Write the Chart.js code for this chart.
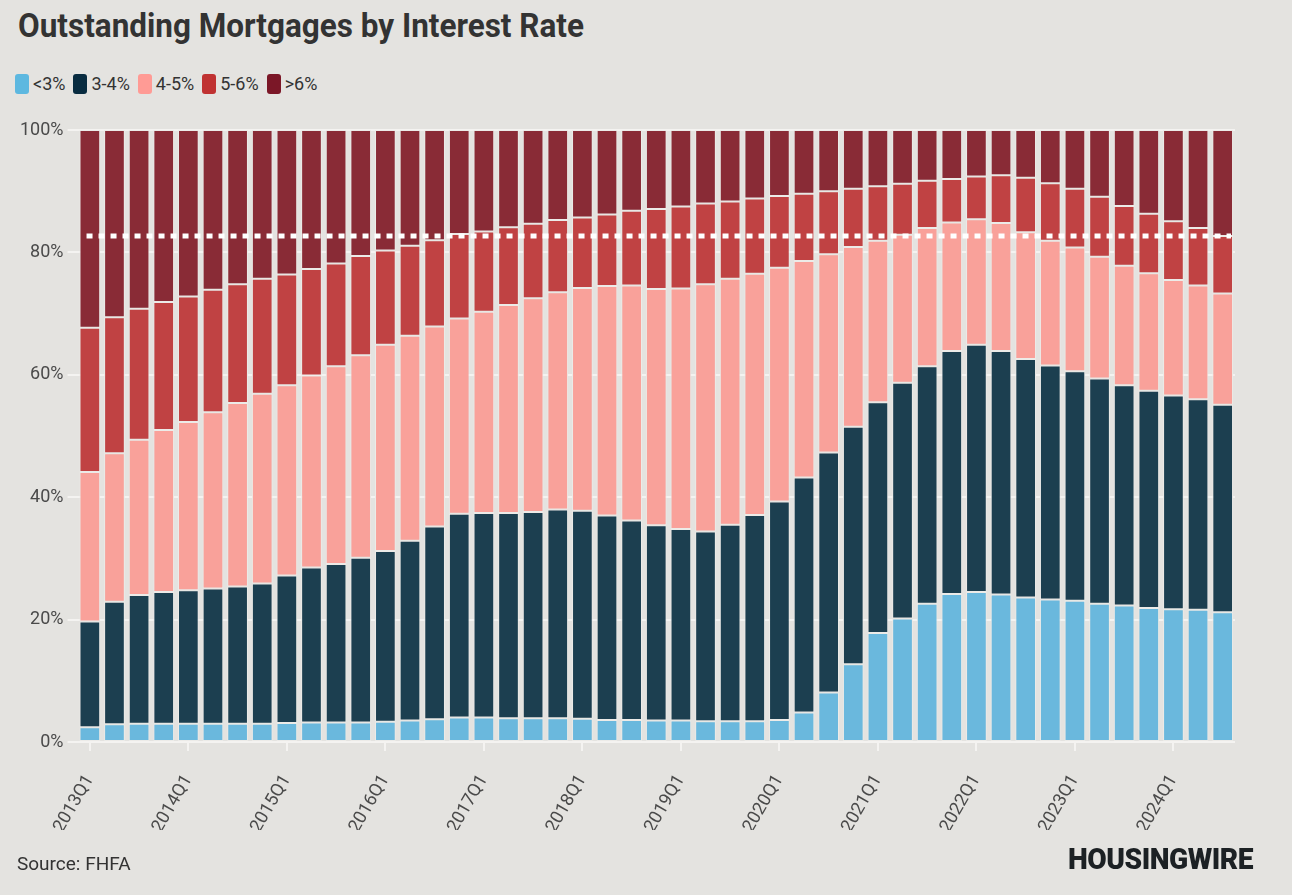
<!DOCTYPE html>
<html>
<head>
<meta charset="utf-8">
<script src="https://cdn.jsdelivr.net/npm/chart.js@4.4.1/dist/chart.umd.min.js"></script>
<style>
  html, body { margin: 0; padding: 0; background: #e4e3e0; width: 1292px; height: 895px; overflow: hidden; font-family: Roboto, "Noto Sans", sans-serif; }
  #title { position: absolute; left: 18px; top: 6px; font-size: 33px; font-weight: 700; color: #333333; white-space: nowrap; transform-origin: left top; }
  #legend { position: absolute; left: 15px; top: 73px; display: flex; align-items: center; }
  .item { display: flex; align-items: center; margin-right: 8px; }
  .box { width: 14px; height: 20px; border-radius: 3px; margin-right: 4px; }
  .lbl { font-size: 18px; color: #333333; }
  #source { position: absolute; left: 17px; top: 852px; font-size: 19px; color: #333333; white-space: nowrap; }
  #logo { position: absolute; left: 1068px; top: 842px; font-size: 29px; font-weight: 900; color: #1c2124; white-space: nowrap; transform-origin: left top; letter-spacing: -0.5px; }
  #wrap { position: absolute; left: 0; top: 108px; width: 1292px; height: 760px; }
</style>
</head>
<body>
<div id="title">Outstanding Mortgages by Interest Rate</div>
<div id="legend"></div>
<div id="wrap"><canvas id="c"></canvas></div>
<div id="source">Source: FHFA</div>
<div id="logo">HOUSINGWIRE</div>
<script>
const quarters = [
  '2013Q1','2013Q2','2013Q3','2013Q4','2014Q1','2014Q2','2014Q3','2014Q4',
  '2015Q1','2015Q2','2015Q3','2015Q4','2016Q1','2016Q2','2016Q3','2016Q4',
  '2017Q1','2017Q2','2017Q3','2017Q4','2018Q1','2018Q2','2018Q3','2018Q4',
  '2019Q1','2019Q2','2019Q3','2019Q4','2020Q1','2020Q2','2020Q3','2020Q4',
  '2021Q1','2021Q2','2021Q3','2021Q4','2022Q1','2022Q2','2022Q3','2022Q4',
  '2023Q1','2023Q2','2023Q3','2023Q4','2024Q1','2024Q2','2024Q3'
];
const seriesNames = ['<3%', '3-4%', '4-5%', '5-6%', '>6%'];

const below3 = [2.4,2.9,3.0,3.0,3.0,3.0,3.0,3.0,3.1,3.2,3.2,3.2,3.3,3.5,3.7,4.0,4.0,3.9,3.9,3.9,3.8,3.6,3.6,3.5,3.5,3.4,3.4,3.4,3.6,4.8,8.1,12.7,17.8,20.2,22.6,24.2,24.5,24.1,23.6,23.3,23.1,22.6,22.3,21.9,21.7,21.6,21.2];
const rate3to4 = [17.3,20.0,21.0,21.5,21.8,22.1,22.4,22.9,24.1,25.3,25.9,26.9,27.9,29.4,31.5,33.3,33.4,33.5,33.7,34.1,34.0,33.4,32.6,31.9,31.3,31.0,32.1,33.7,35.7,38.4,39.2,38.8,37.7,38.5,38.8,39.7,40.4,39.8,39.0,38.2,37.5,36.8,36.0,35.5,34.9,34.4,33.9];
const rate4to5 = [24.4,24.3,25.4,26.5,27.5,28.8,30.0,31.0,31.1,31.4,32.3,33.1,33.7,33.5,32.7,31.9,32.9,34.0,34.9,35.5,36.4,37.5,38.4,38.6,39.3,40.4,40.2,39.4,38.2,35.4,32.4,29.4,26.4,24.2,22.6,21.0,20.5,20.9,20.7,20.4,20.2,19.9,19.5,19.2,18.9,18.6,18.2];
const rate5to6 = [23.6,22.2,21.4,20.9,20.5,20.0,19.4,18.8,18.1,17.4,16.8,16.2,15.4,14.7,14.1,13.8,13.1,12.7,12.2,11.8,11.5,11.7,12.2,13.1,13.4,13.2,12.6,12.3,11.7,11.0,10.3,9.5,8.9,8.3,7.7,7.1,7.0,7.8,8.9,9.4,9.6,9.8,9.8,9.7,9.6,9.4,9.4];
const above6 = [32.3,30.6,29.2,28.1,27.2,26.1,25.2,24.3,23.6,22.7,21.8,20.6,19.7,18.9,18.0,17.0,16.6,15.9,15.3,14.7,14.3,13.8,13.2,12.9,12.5,12.0,11.7,11.2,10.8,10.4,10.0,9.6,9.2,8.8,8.3,8.0,7.6,7.4,7.8,8.7,9.6,10.9,12.4,13.7,14.9,16.0,17.3];
const referenceLine = 82.7;
const yTicks = [0, 20, 40, 60, 80, 100];

const barColors = ['#6ab8dd', '#1c3f50', '#f9a19a', '#c04243', '#892b36'];
const legendColors = ['#5db8e0', '#082c40', '#ff9b95', '#c03232', '#7b1727'];
const seriesData = [below3, rate3to4, rate4to5, rate5to6, above6];

// HTML legend
const legendEl = document.getElementById('legend');
seriesNames.forEach((n, i) => {
  const it = document.createElement('div'); it.className = 'item';
  const b = document.createElement('div'); b.className = 'box'; b.style.background = legendColors[i];
  const t = document.createElement('span'); t.className = 'lbl'; t.textContent = n;
  it.appendChild(b); it.appendChild(t); legendEl.appendChild(it);
});

function fitWidth(id, w) {
  const el = document.getElementById(id);
  const r = el.getBoundingClientRect().width;
  el.style.transform = 'scaleX(' + (w / r) + ')';
}
fitWidth('title', 566);
fitWidth('logo', 185);

const refLinePlugin = {
  id: 'refLine',
  afterDatasetsDraw(chart) {
    const { ctx, chartArea, scales } = chart;
    const y = scales.y.getPixelForValue(referenceLine);
    ctx.save();
    ctx.strokeStyle = '#ffffff';
    ctx.lineWidth = 5;
    ctx.setLineDash([6, 6]);
    ctx.beginPath();
    ctx.moveTo(chartArea.left + 9, y);
    ctx.lineTo(chartArea.right - 4, y);
    ctx.stroke();
    ctx.restore();
  }
};

new Chart(document.getElementById('c'), {
  type: 'bar',
  data: {
    labels: quarters,
    datasets: seriesNames.map((n, i) => ({
      label: n,
      data: seriesData[i],
      backgroundColor: barColors[i],
      borderColor: '#ecebe8',
      borderWidth: 1,
      borderSkipped: false,
      categoryPercentage: 0.84,
      barPercentage: 1.0
    }))
  },
  options: {
    responsive: true,
    maintainAspectRatio: false,
    animation: false,
    layout: { padding: { left: 16, right: 57, top: 22, bottom: 38 } },
    plugins: { legend: { display: false }, tooltip: { enabled: false }, title: { display: false } },
    scales: {
      x: {
        stacked: true,
        afterFit: (axis) => { axis.height = 88; },
        grid: { display: true, offset: false, drawOnChartArea: false, drawTicks: true, tickLength: 9, color: '#f4f3f1', lineWidth: 2 },
        border: { display: false },
        ticks: {
          autoSkip: false,
          maxRotation: 60,
          minRotation: 60,
          padding: 20,
          color: '#4a4a4a',
          font: { family: 'Roboto', size: 18 },
          callback: function(v, i) { return quarters[i].endsWith('Q1') ? quarters[i] : null; }
        }
      },
      y: {
        stacked: true,
        min: 0,
        max: 100,
        afterBuildTicks: (axis) => { axis.ticks = yTicks.map(v => ({ value: v })); },
        grid: { color: '#f4f3f1', lineWidth: 2, tickLength: 10, drawTicks: true },
        border: { display: false },
        ticks: {
          padding: 4,
          color: '#4a4a4a',
          font: { family: 'Roboto', size: 18 },
          callback: v => v + '%'
        }
      }
    }
  },
  plugins: [refLinePlugin]
});
</script>
</body>
</html>
